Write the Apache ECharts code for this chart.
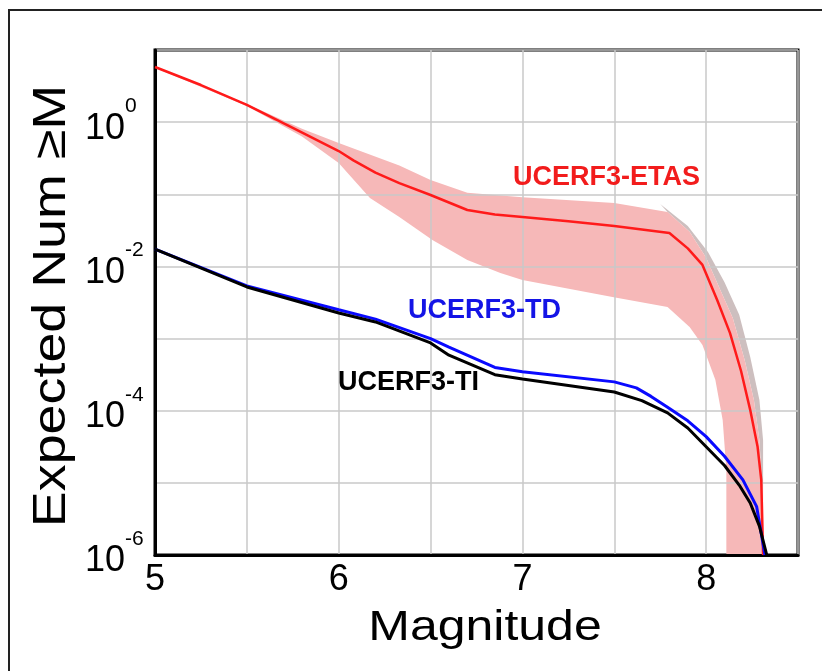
<!DOCTYPE html>
<html>
<head>
<meta charset="utf-8">
<script src="https://cdn.jsdelivr.net/npm/echarts@6/dist/echarts.min.js"></script>
<style>
html,body{margin:0;padding:0;background:#fff;}
#c{width:822px;height:671px;}
</style>
</head>
<body>
<div id="c"></div>
<script>
// ---- data ----
const xTicks = [5, 6, 7, 8];
const yTickExponents = [0, -2, -4, -6];

// UCERF3-ETAS mean
const etasMag  = [5.0, 5.25, 5.5, 5.75, 6.0, 6.08, 6.2, 6.33, 6.5, 6.7, 6.85, 7.0, 7.25, 7.5, 7.8, 7.9, 7.98, 8.06, 8.13, 8.19, 8.24, 8.28, 8.30, 8.31];
const etasMean = [5.81, 3.27, 1.73, 0.832, 0.398, 0.295, 0.200, 0.143, 0.0977, 0.0605, 0.0525, 0.0484, 0.0422, 0.0363, 0.0290, 0.0178, 0.0105, 0.00342, 0.00119, 3.55e-4, 1.02e-4, 3.16e-5, 1.1e-5, 1.0e-6];

// ETAS range (pink band)
const bandUpMag = [5.0, 5.5, 5.8, 6.0, 6.33, 6.5, 6.7, 7.0, 7.5, 7.79, 7.91, 8.0, 8.07, 8.145, 8.21, 8.26, 8.29, 8.31, 8.31];
const bandUpVal = [5.96, 1.78, 0.813, 0.513, 0.251, 0.158, 0.105, 0.0912, 0.0759, 0.0569, 0.0302, 0.0132, 0.00519, 0.00193, 5.01e-4, 1.41e-4, 3.89e-5, 5.75e-6, 1.0e-6];
const bandLoMag = [5.0, 5.5, 5.8, 6.0, 6.17, 6.33, 6.51, 6.70, 6.88, 7.0, 7.49, 7.79, 7.91, 7.98, 8.05, 8.09, 8.11, 8.11];
const bandLoVal = [5.66, 1.68, 0.631, 0.272, 0.0891, 0.0484, 0.0232, 0.0123, 0.00813, 0.00649, 0.00377, 0.00274, 0.00145, 8.13e-4, 2.69e-4, 7.41e-5, 1.51e-5, 1.0e-6];

// grey edge of the band (upper right)
const greyMag = [7.75, 7.90, 8.01, 8.10, 8.18, 8.24, 8.29, 8.31, 8.31];
const greyVal = [0.0733, 0.0363, 0.0158, 0.00603, 0.00214, 5.56e-4, 1.41e-4, 3.89e-5, 1.51e-5];

// UCERF3-TD
const tdMag = [5.0, 5.5, 6.0, 6.2, 6.5, 6.6, 6.85, 7.0, 7.5, 7.62, 7.7, 7.79, 7.9, 8.0, 8.1, 8.2, 8.275, 8.32];
const tdVal = [0.0174, 0.00537, 0.00251, 0.00186, 0.001, 7.59e-4, 3.98e-4, 3.47e-4, 2.51e-4, 2.07e-4, 1.58e-4, 1.12e-4, 7.24e-5, 4.37e-5, 2.34e-5, 1.10e-5, 4.68e-6, 1.0e-6];

// UCERF3-TI
const tiMag = [5.0, 5.5, 6.0, 6.2, 6.5, 6.6, 6.85, 7.0, 7.5, 7.65, 7.79, 7.9, 8.0, 8.1, 8.18, 8.24, 8.29, 8.33];
const tiVal = [0.0174, 0.00519, 0.00226, 0.0017, 8.71e-4, 5.89e-4, 3.16e-4, 2.75e-4, 1.82e-4, 1.38e-4, 9.33e-5, 5.75e-5, 3.16e-5, 1.74e-5, 9.33e-6, 5.25e-6, 2.51e-6, 1.0e-6];

const FONT = '"Liberation Sans", Arial, Helvetica, sans-serif';

function pairs(xs, ys) { return xs.map((x, i) => [x, ys[i]]); }

function polygonSeries(upX, upY, loX, loY, fill, z) {
  return {
    type: 'custom',
    z: z,
    silent: true,
    clip: true,
    data: [[upX[0], upY[0]]],
    renderItem: function (params, api) {
      if (params.dataIndex !== 0) return;
      const pts = [];
      for (let i = 0; i < upX.length; i++) pts.push(api.coord([upX[i], upY[i]]));
      for (let i = loX.length - 1; i >= 0; i--) pts.push(api.coord([loX[i], loY[i]]));
      return { type: 'polygon', shape: { points: pts }, style: { fill: fill, stroke: null } };
    }
  };
}

const chart = echarts.init(document.getElementById('c'), null, { renderer: 'canvas' });

const greyLoMag = bandUpMag.filter(m => m >= 7.79);
const greyLoVal = bandUpVal.slice(bandUpMag.length - greyLoMag.length);

chart.setOption({
  animation: false,
  backgroundColor: '#ffffff',
  textStyle: { fontFamily: FONT },
  grid: {
    left: 155, top: 50, right: 24, bottom: 116,
    containLabel: false,
    outerBoundsMode: 'none',
    show: true, borderColor: '#000', borderWidth: 3, backgroundColor: 'transparent'
  },
  xAxis: {
    type: 'value', min: 5, max: 8.5, interval: 0.5, z: 1.5,
    axisLine: { show: true, onZero: false, lineStyle: { color: '#000', width: 3 } },
    axisTick: { show: false },
    axisLabel: {
      fontSize: 36, color: '#000', fontFamily: FONT, margin: 7,
      formatter: v => (xTicks.indexOf(v) >= 0 ? String(v) : '')
    },
    splitLine: { show: true, lineStyle: { color: '#c8c8c8', width: 1.5 } }
  },
  yAxis: {
    type: 'log', logBase: 10, min: 1e-6, max: 10, interval: 1, z: 1.5,
    axisLine: { show: true, onZero: false, lineStyle: { color: '#000', width: 3 } },
    axisTick: { show: false },
    axisLabel: {
      align: 'left', margin: 70, color: '#000', fontFamily: FONT,
      padding: [13, 0, 0, 0],
      formatter: function (v) {
        const e = Math.round(Math.log10(v));
        if (yTickExponents.indexOf(e) < 0) return '';
        return '{b|10}{s|' + e + '}';
      },
      rich: {
        b: { fontSize: 36, lineHeight: 66, fontFamily: FONT, color: '#000' },
        s: { fontSize: 21, lineHeight: 21, fontFamily: FONT, color: '#000', verticalAlign: 'top' }
      }
    },
    splitLine: { show: true, lineStyle: { color: '#c8c8c8', width: 1.5 } }
  },
  series: [
    polygonSeries(greyMag, greyVal, greyLoMag, greyLoVal, '#cdbfbf', 1),
    polygonSeries(bandUpMag, bandUpVal, bandLoMag, bandLoVal, '#f6b8b8', 1),
    {
      name: 'UCERF3-ETAS', type: 'line', z: 3, symbol: 'none',
      data: pairs(etasMag, etasMean),
      lineStyle: { color: '#ff1a1a', width: 2.5 }
    },
    {
      name: 'UCERF3-TD', type: 'line', z: 3, symbol: 'none',
      data: pairs(tdMag, tdVal),
      lineStyle: { color: '#0a0aff', width: 3 }
    },
    {
      name: 'UCERF3-TI', type: 'line', z: 4, symbol: 'none',
      data: pairs(tiMag, tiVal),
      lineStyle: { color: '#000000', width: 3 }
    }
  ],
  graphic: [
    { type: 'rect', silent: true, shape: { x: 9, y: 10, width: 900, height: 900 },
      style: { fill: null, stroke: '#222', lineWidth: 2 }, z: 0 },
    { type: 'text', x: 52, y: 306, rotation: Math.PI / 2, scaleX: 1.17, z: 10,
      style: { text: 'Expected Num \u2265M', font: '46px ' + FONT, fill: '#000', align: 'center', verticalAlign: 'middle' } },
    { type: 'text', x: 485, y: 628, scaleX: 1.19, z: 10,
      style: { text: 'Magnitude', font: '42px ' + FONT, fill: '#000', align: 'center', verticalAlign: 'middle' } },
    { type: 'text', x: 513, y: 178, z: 10,
      style: { text: 'UCERF3-ETAS', font: 'bold 27px ' + FONT, fill: '#f21c1c', align: 'left', verticalAlign: 'middle' } },
    { type: 'text', x: 408, y: 311, z: 10,
      style: { text: 'UCERF3-TD', font: 'bold 27px ' + FONT, fill: '#1414e6', align: 'left', verticalAlign: 'middle' } },
    { type: 'text', x: 338, y: 383, z: 10,
      style: { text: 'UCERF3-TI', font: 'bold 27px ' + FONT, fill: '#000', align: 'left', verticalAlign: 'middle' } }
  ]
});
</script>
</body>
</html>
